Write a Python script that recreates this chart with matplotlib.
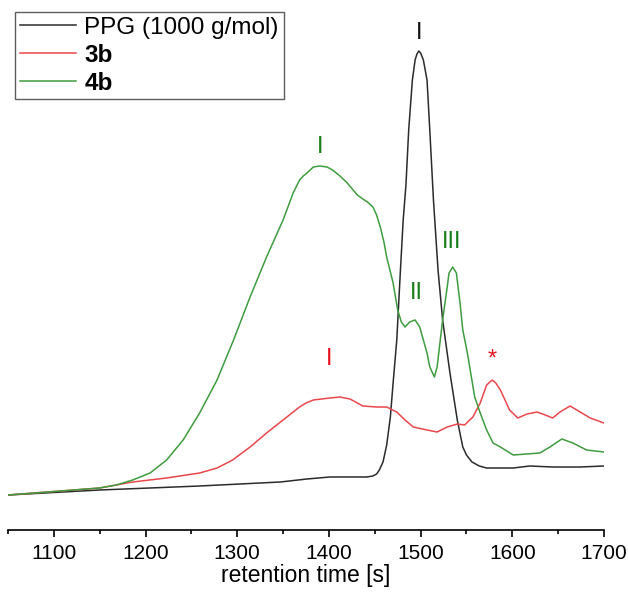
import matplotlib
matplotlib.use("Agg")
import matplotlib.pyplot as plt
from matplotlib.ticker import MultipleLocator

plt.rcParams['font.family'] = ['Liberation Sans', 'DejaVu Sans']

# retention time [s] and detector signal (arbitrary units)
ppg_t = [1050, 1150, 1259, 1347, 1376, 1401, 1419, 1441, 1448, 1452, 1455, 1459, 1463,
         1467, 1470, 1474, 1478, 1481, 1484, 1487, 1491, 1494, 1496, 1498, 1500, 1503,
         1507, 1510, 1514, 1519, 1524, 1532, 1540, 1546, 1550, 1556, 1564, 1572, 1601,
         1619, 1644, 1674, 1700]
ppg_s = [35, 40, 44, 48, 51, 53, 53, 53, 54, 56, 60, 68, 85,
         113, 147, 190, 260, 310, 345, 400, 450, 470, 476, 479, 477, 470,
         450, 400, 330, 260, 210, 157, 110, 83, 75, 68, 64, 62, 62,
         64, 63, 63, 64]

b3_t = [1050, 1150, 1186, 1223, 1259, 1278, 1295, 1314, 1332, 1350, 1368, 1375, 1383,
        1392, 1401, 1412, 1423, 1437, 1452, 1463, 1474, 1483, 1492, 1507, 1518, 1529,
        1540, 1548, 1557, 1565, 1572, 1578, 1582, 1587, 1597, 1606, 1616, 1627, 1636,
        1644, 1652, 1663, 1674, 1685, 1700]
b3_s = [35, 42, 48, 52, 57, 62, 70, 83, 97, 110, 123, 127, 130,
        131, 132, 133, 131, 124, 123, 123, 118, 110, 103, 100, 98, 103,
        106, 105, 113, 127, 145, 150, 147, 140, 120, 112, 116, 118, 115,
        112, 118, 124, 118, 112, 107]

b4_t = [1050, 1150, 1168, 1186, 1205, 1223, 1241, 1259, 1278, 1296, 1314, 1332, 1350,
        1361, 1368, 1372, 1376, 1383, 1390, 1398, 1404, 1412, 1420, 1431, 1437, 1442,
        1448, 1452, 1456, 1460, 1463, 1470, 1475, 1479, 1483, 1488, 1494, 1499, 1503,
        1507, 1510, 1515, 1518, 1524, 1529, 1531, 1535, 1539, 1543, 1546, 1551, 1559,
        1565, 1572, 1579, 1587, 1601, 1630, 1641, 1654, 1666, 1681, 1700]
b4_s = [35, 42, 45, 50, 57, 70, 90, 117, 150, 190, 233, 273, 310,
        337, 350, 354, 357, 363, 364, 363, 360, 354, 347, 335, 331, 328,
        323, 315, 303, 288, 273, 247, 220, 208, 203, 208, 210, 203, 190,
        177, 163, 153, 163, 210, 243, 257, 263, 257, 227, 200, 177, 133,
        117, 100, 87, 83, 75, 77, 83, 91, 87, 80, 78]

series_names = ['PPG (1000 g/mol)', '3b', '4b']

# peak labels: (text, x, y, colour)
peak_labels = [('I', 1498, 497, '#111111'),
               ('I', 1390, 383, '#1a7f1a'),
               ('II', 1495, 237, '#1a7f1a'),
               ('III', 1534, 288, '#1a7f1a'),
               ('I', 1400, 171, '#e8141e'),
               ('*', 1578, 170, '#e8141e')]

fig = plt.figure(figsize=(6.28, 6.01), dpi=100)
ax = fig.add_axes([8 / 628, 1 - 530 / 601, 596 / 628, 530 / 601])

l1, = ax.plot(ppg_t, ppg_s, color='#2b2b2b', lw=1.1)
l2, = ax.plot(b3_t, b3_s, color='#e8474c', lw=1.1)
l3, = ax.plot(b4_t, b4_s, color='#3f9c3f', lw=1.1)

for txt, x, y, c in peak_labels:
    ax.text(x, y, txt, color=c, fontsize=17, ha='center', va='center')

ax.set_xlim(1050, 1700)
ax.set_ylim(0, 530)
ax.xaxis.set_major_locator(MultipleLocator(100))
ax.xaxis.set_minor_locator(MultipleLocator(50))
ax.tick_params(axis='x', which='major', direction='out', length=5, width=1.2, labelsize=15, pad=5)
ax.tick_params(axis='x', which='minor', direction='out', length=3, width=1.2)
ax.set_yticks([])
for side in ['top', 'right', 'left']:
    ax.spines[side].set_visible(False)
ax.spines['bottom'].set_linewidth(1.2)
ax.set_xlabel('retention time [s]', fontsize=16.5, labelpad=1)
ax.patch.set_alpha(0)

leg = ax.legend([l1, l2, l3], series_names, loc='upper left',
                bbox_to_anchor=(15 / 628, 1 - 12 / 601), bbox_transform=fig.transFigure,
                borderaxespad=0, fontsize=17.5, frameon=True, fancybox=False,
                handlelength=2.3, handletextpad=0.35, labelspacing=0.2, borderpad=0.2)
leg.get_frame().set_edgecolor('#333333')
leg.get_frame().set_linewidth(1.0)
leg.get_texts()[1].set_fontweight('bold')
leg.get_texts()[2].set_fontweight('bold')

fig.savefig('out.png', dpi=100)
